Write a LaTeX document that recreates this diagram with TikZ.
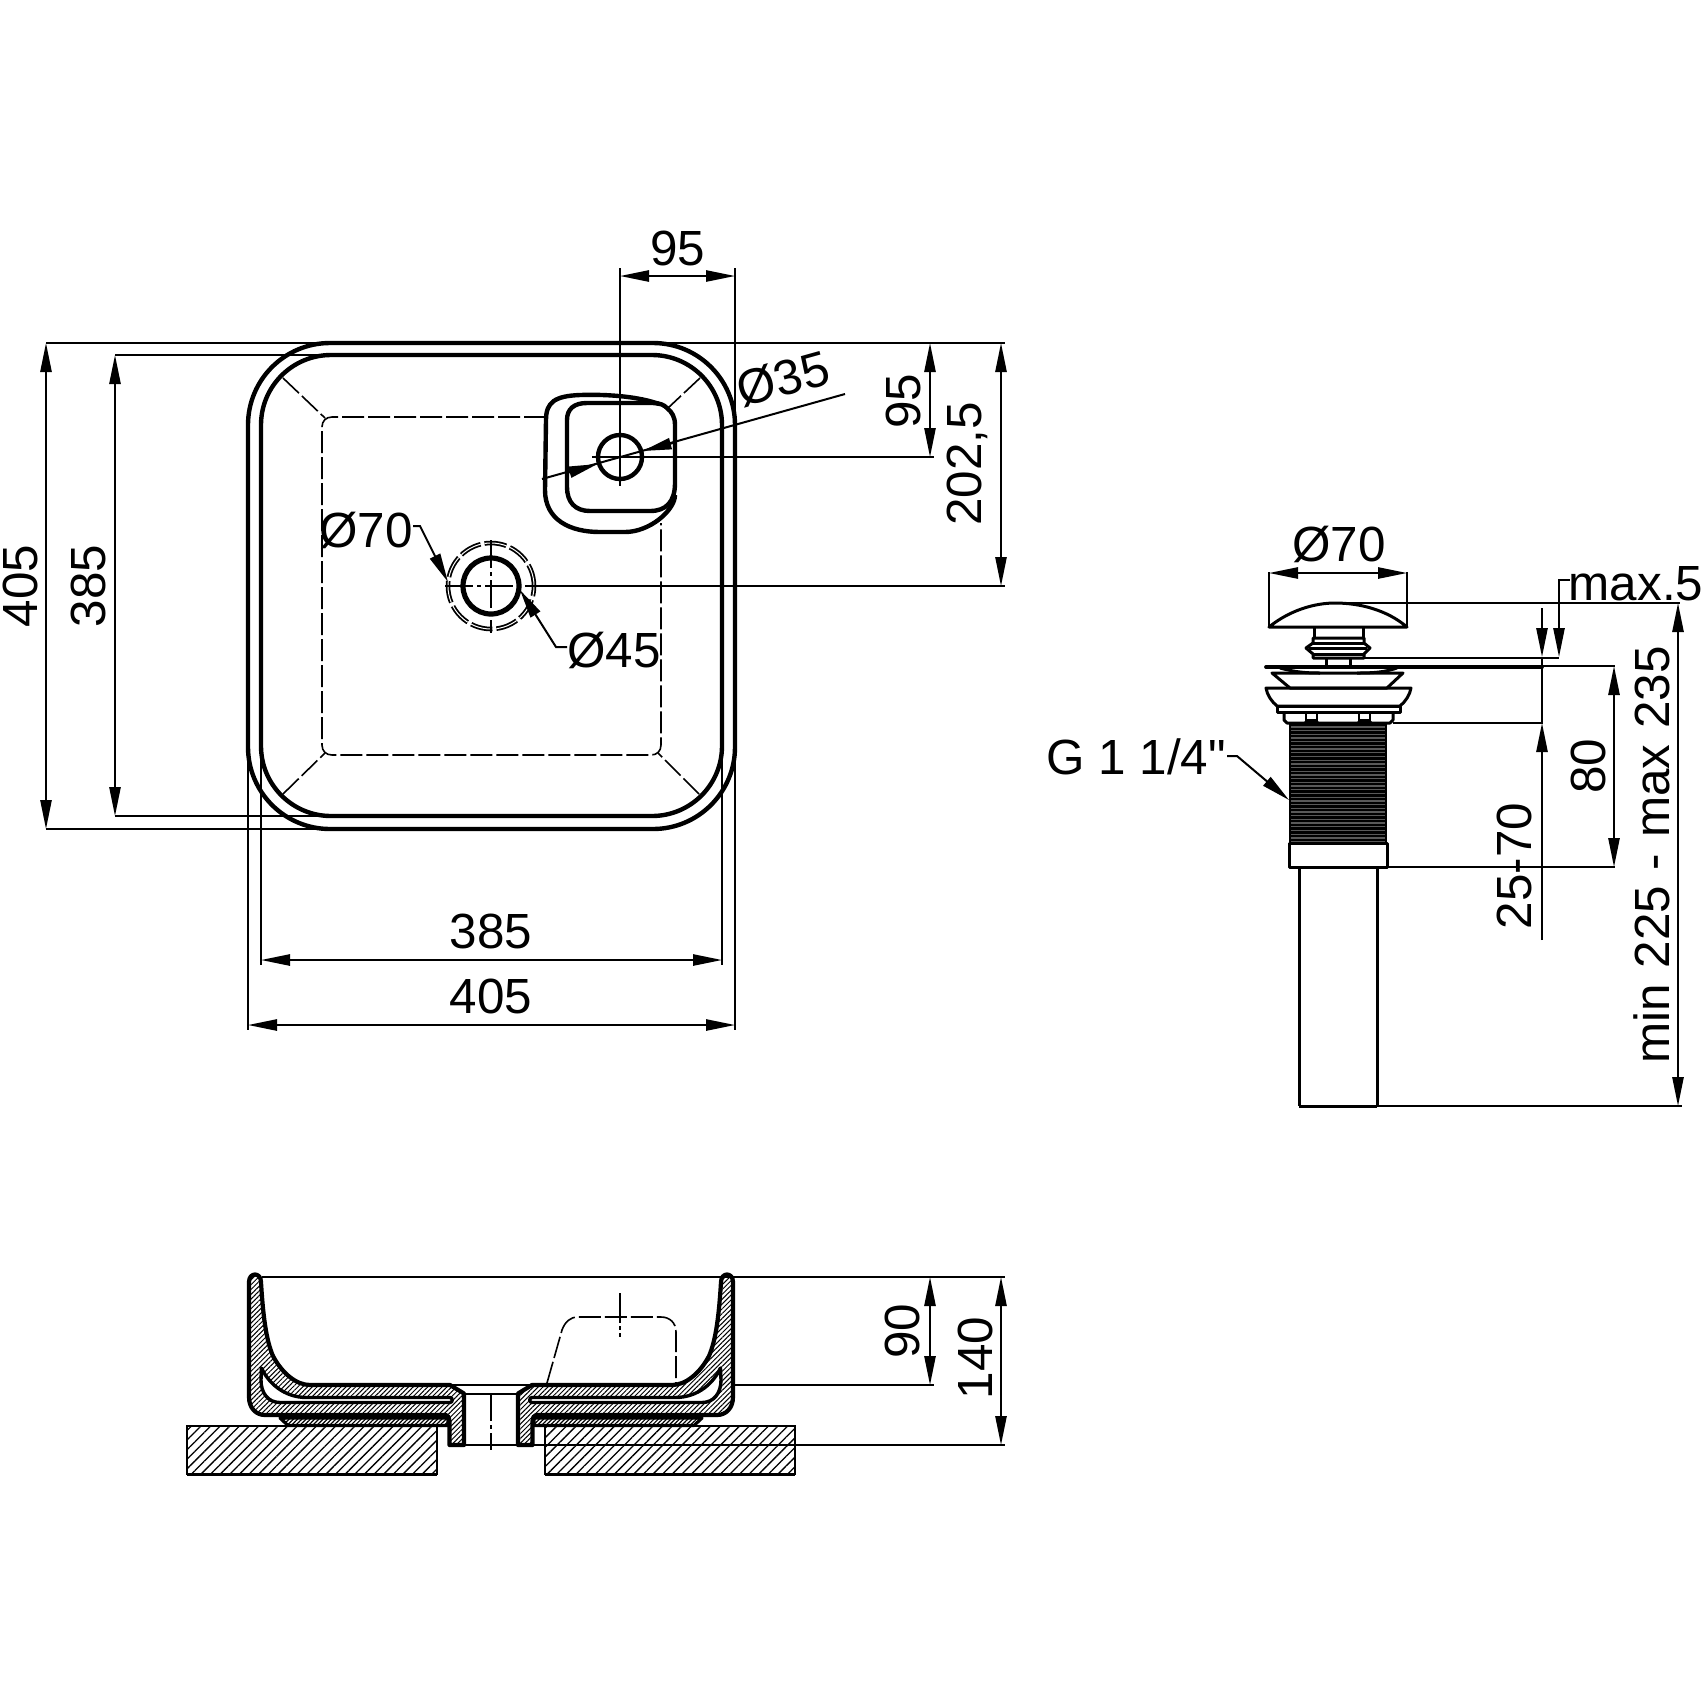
\documentclass[tikz,border=0pt]{standalone}
\usepackage{fontspec}
\setmainfont{Liberation Sans}
\newfontfamily\plainsans{Liberation Sans}
\usetikzlibrary{arrows.meta,patterns.meta}
\tikzset{
  thin line/.style={line width=1pt},
  thick line/.style={line width=2.2pt},
  mid line/.style={line width=1.5pt},
  dimline/.style={line width=1pt,{Triangle[length=14.5pt,width=5.6pt]}-{Triangle[length=14.5pt,width=5.6pt]}},
  leader/.style={line width=1pt,-{Triangle[length=14.5pt,width=5.6pt]}},
  hid/.style={line width=.8pt,dash pattern=on 11pt off 2pt},
  axisline/.style={line width=1pt,dash pattern=on 14pt off 2pt on 2pt off 2pt},
  lbl/.style={inner sep=0pt,font=\fontsize{24.7}{26}\selectfont\plainsans},
  vlbl/.style={lbl,rotate=90},
  bodyhatch/.style={pattern={Lines[angle=45,distance=1.7pt,line width=.5pt]},draw,line width=2.1pt,line join=round},
  counterhatch/.style={pattern={Lines[angle=45,distance=3.4pt,line width=.65pt]}}
}
\newcommand{\halfsection}{%
  % thin strip under the bowl
  \draw[pattern={Lines[angle=45,distance=1.5pt,line width=.6pt]},line width=1.6pt,line join=round]
    (280,1418) -- (448,1418) -- (448,1425.5) -- (288,1425.5) -- cycle;
  % bowl wall, floor and spigot
  \draw[bodyhatch]
    (249,1282) .. controls (249,1272) and (261,1272) .. (261,1282)
    .. controls (263,1315) and (266,1340) .. (273,1356)
    .. controls (282,1373) and (296,1385) .. (310,1385)
    -- (450,1385) -- (464,1393.5) -- (464,1445) -- (449.5,1445) -- (449.5,1421)
    .. controls (449.5,1418) and (448,1415) .. (446,1415)
    -- (265,1415) .. controls (256,1415) and (249,1408) .. (249,1397) -- cycle;
  % cavity in the glaze
  \fill[white,draw=black,line width=1.7pt,line join=round]
    (261.5,1368) .. controls (268,1382) and (283,1397.5) .. (307,1397.5)
    -- (450,1397.5) .. controls (453,1397.5) and (453,1402.5) .. (450,1402.5)
    -- (280,1402.5) .. controls (268,1402.5) and (261,1393) .. (261,1380) -- cycle;
}
\begin{document}
\begin{tikzpicture}[x=.5pt,y=-.5pt]
\useasboundingbox (0,0) rectangle (1704,1704);
% ===================== top view =====================
\draw[thick line,rounded corners=41pt] (248,343) rectangle (735,829);
\draw[thick line,rounded corners=35pt] (261,355) rectangle (722,816);
% hidden basin floor
\draw[hid] (546,417) -- (332,417) .. controls (326,417) and (322,421) .. (322,427)
  -- (322,745) .. controls (322,751) and (326,755) .. (332,755)
  -- (651,755) .. controls (657,755) and (661,751) .. (661,745) -- (661,523);
\draw[hid] (283,378) -- (325,418);
\draw[hid] (700,378) -- (668,408);
\draw[hid] (283,794) -- (325,753);
\draw[hid] (699,794) -- (658,753);
% overflow
\draw[thick line] (659,404) .. controls (640,397) and (610,394) .. (580,395)
  .. controls (555,396) and (546,402) .. (546,420) -- (545,490)
  .. controls (545,520) and (570,532) .. (600,532) -- (625,532)
  .. controls (650,532) and (675,510) .. (675,495);
\draw[thick line] (667,408) .. controls (672,412) and (675,417) .. (675,425) -- (675,483)
  .. controls (675,502) and (666,511) .. (650,511) -- (590,511)
  .. controls (575,511) and (567,502) .. (567,487) -- (567,420)
  .. controls (567,409) and (574,403) .. (587,403) -- (653,403)
  .. controls (660,403) and (664,405) .. (667,408);
\node[draw,circle,thick line,minimum size=22pt,inner sep=0pt] (ovf) at (620,457) {};
% drain
\node[draw,circle,line width=2.6pt,minimum size=28pt,inner sep=0pt] (drn) at (491,586) {};
\draw[line width=.9pt,double distance=.5pt,dash pattern=on 11pt off 2pt] (491,586) circle[radius=21.5pt];
\draw[axisline] (445,586) -- (535,586);
\draw[axisline] (491,540) -- (491,633);
% extension lines
\draw[thin line] (46,343) -- (330,343);
\draw[thin line] (115,355) -- (332,355);
\draw[thin line] (46,829) -- (330,829);
\draw[thin line] (115,816) -- (332,816);
\draw[thin line] (248,750) -- (248,1030);
\draw[thin line] (261,750) -- (261,965);
\draw[thin line] (722,750) -- (722,965);
\draw[thin line] (735,750) -- (735,1030);
\draw[thin line] (620,268) -- (620,486);
\draw[thin line] (735,268) -- (735,425);
\draw[thin line] (592,457) -- (934,457);
\draw[thin line] (535,586) -- (1005,586);
\draw[thin line] (660,343) -- (1005,343);
% dimensions
\draw[dimline] (620,276) -- (735,276);
\draw[dimline] (46,343) -- (46,829);
\draw[dimline] (115,355) -- (115,816);
\draw[dimline] (261,960) -- (722,960);
\draw[dimline] (248,1025) -- (735,1025);
\draw[dimline] (930,343) -- (930,457);
\draw[dimline] (1001,343) -- (1001,586);
\node[lbl] (t95a) at (678,248) {95};
\node[vlbl] (t405a) at (20,586) {405};
\node[vlbl] (t385a) at (88,586) {385};
\node[lbl] (t385b) at (491,931) {385};
\node[lbl] (t405b) at (491,996) {405};
\node[vlbl] (t95b) at (903,401) {95};
\node[vlbl] (t202) at (967,464) {202,5};
% diameters
\draw[thin line] (542,479) -- (845,394);
\draw[-{Triangle[length=14.5pt,width=5.6pt]},thin line] (567,473) -- (597.5,464);
\draw[-{Triangle[length=14.5pt,width=5.6pt]},thin line] (673,443) -- (642.5,451);
\node[lbl,rotate=15.6] (tphi35) at (783,379) {Ø35};
\node[lbl] (tphi70) at (366,530) {Ø70};
\node[lbl] (tphi45) at (614,650) {Ø45};
\draw[leader] (413,526) -- (420,526) -- (448,582);
\draw[leader] (567,647) -- (556,647) -- (520,590);
% ===================== section =====================
\draw[counterhatch] (187,1425.5) rectangle (437,1474);
\draw[thin line] (187,1425.5) rectangle (437,1474);
\draw[mid line] (187,1474) -- (437,1474);
\draw[counterhatch] (545,1426) rectangle (795,1474);
\draw[thin line] (545,1426) rectangle (795,1474);
\draw[mid line] (545,1474) -- (795,1474);
\draw[thin line] (465,1445) -- (1005,1445);
\draw[thin line] (465,1394) -- (517,1394);
\draw[thin line] (450,1385) -- (532,1385);
\draw[thin line] (262,1277) -- (1005,1277);
\draw[thin line] (735,1385) -- (934,1385);
\halfsection
\begin{scope}[shift={(982,0)},xscale=-1]
\halfsection
\end{scope}
\draw[axisline] (491,1393) -- (491,1450);
\draw[hid] (547,1383) -- (562,1330) .. controls (565,1322) and (570,1317) .. (578,1317)
  -- (661,1317) .. controls (670,1317) and (676,1323) .. (676,1332) -- (676,1383);
\draw[line width=1pt,dash pattern=on 15pt off 1.5pt on 2pt off 1.5pt on 30pt] (620,1293) -- (620,1337);
\draw[dimline] (930,1277) -- (930,1385);
\draw[dimline] (1001,1277) -- (1001,1445);
\node[vlbl] (t90) at (902,1331) {90};
\node[vlbl] (t140) at (975,1358) {140};
% ===================== pop-up waste =====================
\draw[thin line] (1269,572) -- (1269,628);
\draw[thin line] (1407,572) -- (1407,628);
\draw[dimline] (1269,573) -- (1407,573);
\node[lbl] (tphi70b) at (1339,544) {Ø70};
\draw[mid line,line join=round] (1269,627) .. controls (1290,610) and (1315,603) .. (1335,603)
  .. controls (1360,603) and (1387,610) .. (1407,627) -- cycle;
\draw[thin line] (1335,603) -- (1680,603);
\draw[mid line] (1314,628) -- (1314,638) (1363,628) -- (1363,638);
\draw[mid line,line join=round] (1313,638) -- (1364,638) -- (1364,643) -- (1370,648) -- (1364,654) -- (1364,658)
  -- (1313,658) -- (1313,654) -- (1306,648) -- (1313,643) -- cycle;
\draw[mid line] (1313,643) -- (1364,643) (1309,648) -- (1367,648) (1313,654) -- (1364,654);
\draw[mid line] (1326,658) -- (1326,666) (1350,658) -- (1350,666);
\draw[thin line] (1364,658) -- (1559,658);
\draw[line width=1.9pt,line cap=round] (1266,667) -- (1542,667);
\draw[thin line] (1542,666) -- (1615,666);
\draw[mid line] (1280,668) .. controls (1295,672) and (1305,673) .. (1320,673)
  (1357,673) .. controls (1375,673) and (1385,672) .. (1397,668);
\draw[mid line,line join=round] (1272,673) -- (1403,673) -- (1387,688) -- (1290,688) -- cycle;
\draw[mid line,line join=round] (1266,688) -- (1411,688) .. controls (1410,695) and (1405,702) .. (1400,706)
  -- (1277,706) .. controls (1272,702) and (1267,695) .. (1266,688) -- cycle;
\draw[mid line,line join=round] (1277,706) rectangle (1400,712);
\draw[mid line,line join=round] (1284,712) -- (1284,720) -- (1287,723) -- (1390,723) -- (1393,720) -- (1393,712);
\draw[thin line] (1306,712) -- (1306,720) -- (1317,720) -- (1317,712);
\draw[thin line] (1359,712) -- (1359,720) -- (1370,720) -- (1370,712);
\fill (1303,723) -- (1306,720) -- (1317,720) -- (1320,723) -- cycle;
\fill (1356,723) -- (1359,720) -- (1370,720) -- (1373,723) -- cycle;
\draw[thin line] (1393,723) -- (1543,723);
% thread
\fill[black!65] (1290,724) rectangle (1386,843);
\foreach \yy in {725,728.7,...,843} {\draw[line width=1.2pt] (1290,\yy) -- (1386,\yy);}
\draw[thin line] (1290,724) -- (1290,843) (1386,724) -- (1386,843);
% collar and tail
\draw[mid line,line join=round] (1289,843) rectangle (1387,867);
\draw[mid line] (1299,867) -- (1299,1106) (1377,867) -- (1377,1106);
\draw[mid line] (1299,1106) -- (1377,1106);
\draw[thin line] (1377,1106) -- (1682,1106);
\draw[thin line] (1387,867) -- (1615,867);
% dims on the right
\draw[thin line] (1542,657) -- (1542,723);
\draw[leader] (1542,608) -- (1542,657);
\draw[leader] (1542,940) -- (1542,723);
\draw[leader] (1570,580) -- (1559,580) -- (1559,657);
\draw[dimline] (1614,666) -- (1614,867);
\draw[dimline] (1678,603) -- (1678,1106);
\node[vlbl] (t2570) at (1514,866) {25-70};
\node[vlbl] (t80) at (1588,766) {80};
\node[vlbl] (tminmax) at (1652,855) {\spaceskip=.32em min 225 - max 235};
\node[lbl] (tmax) at (1636,584) {max.5};
\node[lbl] (tg) at (1136,757) {G 1 1/4"};
\draw[leader] (1227,756) -- (1237,756) -- (1289,800);
\end{tikzpicture}
\end{document}
